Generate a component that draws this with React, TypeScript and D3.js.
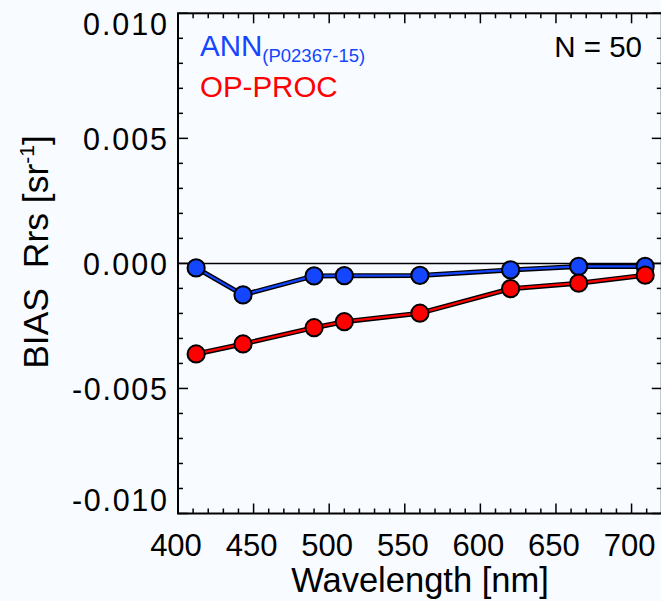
import React from "react";
import * as d3 from "d3";

const wavelengths = [412, 443, 490, 510, 560, 620, 665, 709];
const annBias = [-0.00018, -0.00126, -0.0005, -0.00049, -0.00048, -0.00026, -0.00012, -0.00012];
const opprocBias = [-0.00362, -0.00322, -0.00257, -0.00233, -0.00199, -0.00101, -0.00079, -0.00047];
const xTicks = [400, 450, 500, 550, 600, 650, 700];
const yTicks = [-0.01, -0.005, 0, 0.005, 0.01];
const yTickLabels = ["-0.010", "-0.005", "0.000", "0.005", "0.010"];

const W = 661, H = 601;
const L = 178, R = 661.8, T = 13.3, B = 513.5;
const BG = "#f8fbff";
const BLUE = "#1446ff";
const RED = "#ff0000";
const FONT = "'Liberation Sans', Arial, Helvetica, sans-serif";

export default function App() {
  const x = d3.scaleLinear().domain([400, 720]).range([L, R]);
  const y = d3.scaleLinear().domain([-0.01, 0.01]).range([B, T]);
  const xMinor = d3.range(400, 721, 10);
  const yMinor = d3.range(-10, 11, 1).map((v) => v / 1000);
  const line = d3
    .line<[number, number]>()
    .x((d) => x(d[0]))
    .y((d) => y(d[1]));

  const series = [
    { vals: annBias, color: BLUE },
    { vals: opprocBias, color: RED },
  ];

  const yLabelBaseline = (v: number) => {
    if (v >= 0.01) return T + 22;
    if (v <= -0.01) return B - 3;
    return y(v) + 11.5;
  };

  return (
    <svg
      width={W}
      height={H}
      style={{ position: "fixed", left: 0, top: 0, display: "block" }}
      fontFamily={FONT}
    >
      <rect x={0} y={0} width={W} height={H} fill={BG} />
      {/* zero line */}
      <line x1={L} x2={R} y1={y(0)} y2={y(0)} stroke="#000" strokeWidth={1.5} />
      {/* ticks */}
      {xMinor.map((v) => {
        const major = v % 50 === 0;
        const len = major ? 10 : 5;
        return (
          <g key={"xt" + v}>
            <line x1={x(v)} x2={x(v)} y1={B} y2={B - len} stroke="#000" strokeWidth={1.5} />
            <line x1={x(v)} x2={x(v)} y1={T} y2={T + len} stroke="#000" strokeWidth={1.5} />
          </g>
        );
      })}
      {yMinor.map((v, i) => {
        const major = i % 5 === 0;
        const len = major ? 10 : 5;
        return (
          <g key={"yt" + i}>
            <line x1={L} x2={L + len} y1={y(v)} y2={y(v)} stroke="#000" strokeWidth={1.5} />
            <line x1={R} x2={R - len} y1={y(v)} y2={y(v)} stroke="#000" strokeWidth={1.5} />
          </g>
        );
      })}
      <rect x={L} y={T} width={R - L} height={B - T} fill="none" stroke="#000" strokeWidth={2} />
      {/* tick labels */}
      {xTicks.map((v) => (
        <text key={"xl" + v} x={x(v) - 2} y={556} fontSize={31} textAnchor="middle" fill="#000">
          {v}
        </text>
      ))}
      {yTicks.map((v, i) => (
        <text
          key={"yl" + i}
          x={167}
          y={yLabelBaseline(v)}
          fontSize={30.5}
          textAnchor="end"
          fill="#000"
          textLength={yTickLabels[i].startsWith("-") ? 95 : 84}
          lengthAdjust="spacing"
        >
          {yTickLabels[i]}
        </text>
      ))}
      {/* axis titles */}
      <text x={420} y={592} fontSize={34.5} textAnchor="middle" fill="#000">
        Wavelength [nm]
      </text>
      <text transform="translate(48,252) rotate(-90)" fontSize={35.5} fill="#000" textAnchor="middle">
        BIAS{"\u00a0\u00a0"}Rrs [sr
        <tspan fontSize={21} dy={-14}>-1</tspan>
        <tspan dy={14}>]</tspan>
      </text>
      {/* series */}
      {series.map((s, si) => {
        const pts = wavelengths.map((w, i) => [w, s.vals[i]] as [number, number]);
        return (
          <g key={"s" + si}>
            <path d={line(pts) || ""} fill="none" stroke="#000" strokeWidth={5} strokeLinejoin="round" />
            <path d={line(pts) || ""} fill="none" stroke={s.color} strokeWidth={2.2} strokeLinejoin="round" />
            {pts.map((p, i) => (
              <circle key={i} cx={x(p[0])} cy={y(p[1])} r={8.6} fill={s.color} stroke="#000" strokeWidth={2} />
            ))}
          </g>
        );
      })}
      {/* legend */}
      <text x={200} y={56} fontSize={29.5} fill={BLUE}>
        ANN
        <tspan fontSize={18.5} dy={6}>(P02367-15)</tspan>
      </text>
      <text x={200} y={97} fontSize={29.5} fill={RED}>
        OP-PROC
      </text>
      <text x={642} y={57} fontSize={29.5} textAnchor="end" fill="#000">
        N = 50
      </text>
    </svg>
  );
}
